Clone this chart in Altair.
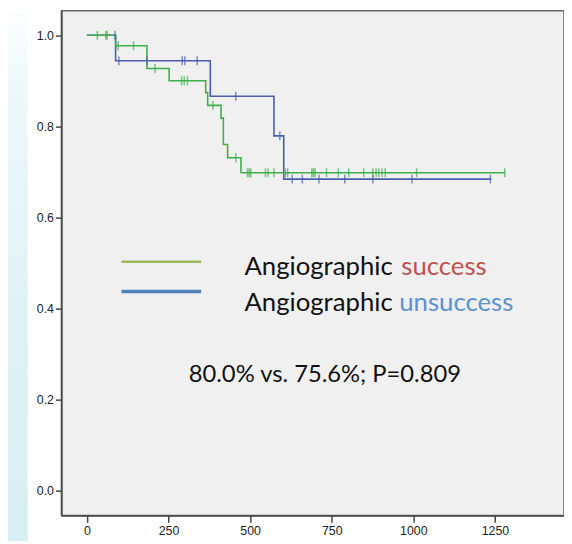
import altair as alt
import pandas as pd

# ---- data (days, cumulative survival) ----
success_t = [0, 88, 184, 252, 364, 370, 411, 418, 431, 472, 1280]
success_s = [1.0, 0.977, 0.927, 0.900, 0.874, 0.846, 0.818, 0.760, 0.731, 0.698, 0.698]
success_censor = [32, 58, 62, 96, 143, 209, 290, 298, 308, 386, 456, 492, 497, 502,
                  547, 555, 573, 608, 615, 689, 694, 699, 734, 770, 802, 848, 876,
                  886, 894, 904, 914, 1010, 1280]

unsucc_t = [0, 88, 378, 573, 603, 1239]
unsucc_s = [1.0, 0.944, 0.866, 0.779, 0.684, 0.684]
unsucc_censor = [86, 98, 184, 292, 300, 338, 456, 591, 629, 660, 711, 790, 876, 996, 1236]

x_ticks = [0, 250, 500, 750, 1000, 1250]
y_ticks = [0.0, 0.2, 0.4, 0.6, 0.8, 1.0]

label_word = "Angiographic"
label_success = "success"
label_unsuccess = "unsuccess"
stats_text = "80.0% vs. 75.6%; P=0.809"

GREEN = "#3FAE4A"
BLUE = "#4A5DB0"


def level(ts, ss, c):
    s = ss[0]
    for t, v in zip(ts, ss):
        if t <= c:
            s = v
    return s


curves = pd.concat([
    pd.DataFrame({"t": unsucc_t, "s": unsucc_s, "g": "unsuccess"}),
    pd.DataFrame({"t": success_t, "s": success_s, "g": "success"}),
])
censors = pd.concat([
    pd.DataFrame({"t": unsucc_censor,
                  "s": [level(unsucc_t, unsucc_s, c) for c in unsucc_censor],
                  "g": "unsuccess"}),
    pd.DataFrame({"t": success_censor,
                  "s": [level(success_t, success_s, c) for c in success_censor],
                  "g": "success"}),
])

xscale = alt.Scale(domain=[-78, 1461.5], nice=False, zero=False)
yscale = alt.Scale(domain=[-0.0549, 1.0536], nice=False, zero=False)
color = alt.Color("g:N", scale=alt.Scale(domain=["unsuccess", "success"],
                                         range=[BLUE, GREEN]), legend=None)

xaxis = alt.Axis(values=x_ticks, title=None, grid=False, tickSize=7, tickWidth=1.5,
                 domainWidth=1.5, domainColor="#444", tickColor="#444",
                 labelColor="#222", labelFont="Liberation Sans", labelFontSize=12.5,
                 labelPadding=2, format="d")
yaxis = alt.Axis(values=y_ticks, title=None, grid=False, tickSize=6, tickWidth=1.5,
                 domainWidth=1.5, domainColor="#444", tickColor="#444",
                 labelColor="#222", labelFont="Liberation Sans", labelFontSize=12.5,
                 labelPadding=2, format=".1f")

lines = alt.Chart(curves).mark_line(interpolate="step-after", strokeWidth=1.6).encode(
    x=alt.X("t:Q", scale=xscale, axis=xaxis),
    y=alt.Y("s:Q", scale=yscale, axis=yaxis),
    color=color,
    detail="g:N",
    order=alt.Order("t:Q"),
)

ticks = alt.Chart(censors).mark_tick(orient="vertical", size=9, thickness=1.5).encode(
    x=alt.X("t:Q", scale=xscale),
    y=alt.Y("s:Q", scale=yscale),
    color=color,
)

one = pd.DataFrame({"a": [0]})

strip = alt.Chart(one).mark_rect(
    color=alt.Gradient(
        gradient="linear",
        stops=[alt.GradientStop(color="#FFFFFF", offset=0),
               alt.GradientStop(color="#EEF8FA", offset=0.15),
               alt.GradientStop(color="#E2F2F6", offset=0.5),
               alt.GradientStop(color="#D8EEF3", offset=1)],
        x1=0, x2=0, y1=0, y2=1)
).encode(x=alt.value(-54), x2=alt.value(-34), y=alt.value(-8), y2=alt.value(536))

leg_green = alt.Chart(one).mark_rule(color="#9BBB59", strokeWidth=2.5).encode(
    x=alt.value(60.7), x2=alt.value(141.3), y=alt.value(253.7))
leg_blue = alt.Chart(one).mark_rule(color="#4F81BD", strokeWidth=3.5).encode(
    x=alt.value(60.7), x2=alt.value(141.3), y=alt.value(283.7))

FONT = "Lato"
FS = 26
t1 = alt.Chart(one).mark_text(align="left", baseline="alphabetic", font=FONT,
                              fontSize=FS, color="#111").encode(
    x=alt.value(185), y=alt.value(267), text=alt.value(label_word))
t1c = alt.Chart(one).mark_text(align="left", baseline="alphabetic", font=FONT,
                               fontSize=FS, color="#C0504D").encode(
    x=alt.value(343.5), y=alt.value(267), text=alt.value(label_success))
t2 = alt.Chart(one).mark_text(align="left", baseline="alphabetic", font=FONT,
                              fontSize=FS, color="#111").encode(
    x=alt.value(185), y=alt.value(303.7), text=alt.value(label_word))
t2c = alt.Chart(one).mark_text(align="left", baseline="alphabetic", font=FONT,
                               fontSize=FS, color="#5F90CF").encode(
    x=alt.value(341.5), y=alt.value(303.7), text=alt.value(label_unsuccess))
t3 = alt.Chart(one).mark_text(align="center", baseline="alphabetic", font=FONT,
                              fontSize=24, color="#111").encode(
    x=alt.value(266.3), y=alt.value(375.3), text=alt.value(stats_text))

chart = alt.layer(
    strip, lines, ticks, leg_green, leg_blue, t1, t1c, t2, t2c, t3
).properties(
    width=508, height=510,
    padding={"left": 54, "top": 0, "right": 0, "bottom": 26},
    autosize=alt.AutoSizeParams(type="none"),
    background="#FFFFFF",
).configure_view(
    fill="#F0F0F0", stroke="#666666", strokeWidth=1.5
)

chart.save("out.html", embed_options={"renderer": "svg", "actions": False})
